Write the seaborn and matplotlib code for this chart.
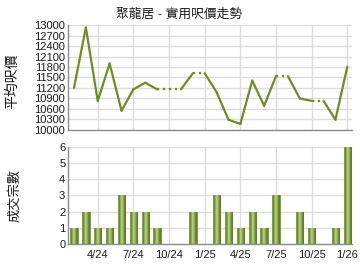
import matplotlib
matplotlib.use("Agg")
import matplotlib.pyplot as plt
import seaborn as sns
import numpy as np
import pandas as pd
from matplotlib.colors import LinearSegmentedColormap

sns.set_theme(style="white")
plt.rcParams['font.family'] = ['Liberation Sans', 'Noto Sans CJK TC', 'DejaVu Sans']

months = ["2/24", "3/24", "4/24", "5/24", "6/24", "7/24", "8/24", "9/24", "10/24", "11/24",
          "12/24", "1/25", "2/25", "3/25", "4/25", "5/25", "6/25", "7/25", "8/25", "9/25",
          "10/25", "11/25", "12/25", "1/26"]
# average price per sq ft (None = no transaction that month)
price = [11200, 12930, 10830, 11900, 10550, 11160, 11350, 11160, None, None,
         11620, None, 11080, 10290, 10170, 11410, 10690, 11540, None, 10900,
         10830, None, 10290, 11810]
deals = [1, 2, 1, 1, 3, 2, 2, 1, 0, 0, 2, 0, 3, 2, 1, 2, 1, 3, 0, 2, 1, 0, 1, 6]
tick_labels = ["4/24", "7/24", "10/24", "1/25", "4/25", "7/25", "10/25", "1/26"]
title = "聚龍居 - 實用呎價走勢"

line_color = "#6b8e23"
grid_color = "#dcdcdc"
spine_color = "#8c8c8c"
text_color = "#1a1a1a"

# build segments: carry forward for missing months (dotted), solid otherwise
filled = []
last = None
for v in price:
    if v is not None:
        last = v
    filled.append(last)
rows = []
for i in range(1, len(months)):
    kind = "dotted" if price[i] is None else "solid"
    rows.append(dict(seg=i, x=i - 1, y=filled[i - 1], kind=kind))
    rows.append(dict(seg=i, x=i, y=filled[i], kind=kind))
seg_df = pd.DataFrame(rows)

fig = plt.figure(figsize=(3.6, 2.7), dpi=100)
fig.patch.set_facecolor("white")
ax1 = fig.add_axes([0.189, 0.519, 0.789, 0.388])
ax2 = fig.add_axes([0.189, 0.096, 0.789, 0.360])

tick_pos = [months.index(t) for t in tick_labels]

# --- top: price line
for kind, ls in [("solid", "-"), ("dotted", ":")]:
    sub = seg_df[seg_df.kind == kind]
    sns.lineplot(data=sub, x="x", y="y", units="seg", estimator=None, ax=ax1,
                 color=line_color, lw=1.6, linestyle=ls, legend=False)

ax1.set_xlim(-0.5, 23.4)
ax1.set_ylim(10000, 13000)
ax1.set_yticks(np.arange(10000, 13001, 300))
ax1.set_xticks(tick_pos)
ax1.set_xticklabels([])
ax1.set_xlabel("")
ax1.set_ylabel("")
fig.text(0.497, 0.945, title, fontsize=9.2, ha="center", va="center", color=text_color)
fig.text(0.033, 0.70, "平均呎價", fontsize=10, rotation=90, ha="center", va="center",
         color=text_color)

# --- bottom: deals bars
bar_df = pd.DataFrame({"month": months, "deals": deals})
sns.barplot(data=bar_df, x="month", y="deals", ax=ax2, color="#7fa03a",
            width=0.62, saturation=1, order=months)
cmap = LinearSegmentedColormap.from_list(
    "barg", ["#8fae55", "#5f801f", "#b9d08a", "#a6c270", "#6d8f2b", "#5a7a1c"])
grad = np.linspace(0, 1, 64).reshape(1, -1)
for p in list(ax2.patches):
    x0, w, h = p.get_x(), p.get_width(), p.get_height()
    if h <= 0:
        continue
    im = ax2.imshow(grad, cmap=cmap, aspect="auto", extent=[x0, x0 + w, 0, h],
                    zorder=p.get_zorder() + 0.1, interpolation="bilinear")
    im.set_clip_path(p)
    p.set_edgecolor("#6a8a2a")
    p.set_linewidth(0.5)

ax2.set_xlim(-0.5, 23.4)
ax2.set_ylim(0, 6)
ax2.set_yticks(range(0, 7))
ax2.set_xticks(tick_pos)
ax2.set_xticklabels(tick_labels)
ax2.set_xlabel("")
ax2.set_ylabel("")
fig.text(0.042, 1 - 196 / 270, "成交宗數", fontsize=9.5, rotation=90, ha="center",
         va="center", color=text_color)

for ax in (ax1, ax2):
    ax.set_facecolor("white")
    ax.grid(True, color=grid_color, lw=1)
    ax.set_axisbelow(True)
    for s in ("top", "right"):
        ax.spines[s].set_visible(False)
    for s in ("left", "bottom"):
        ax.spines[s].set_color(spine_color)
        ax.spines[s].set_linewidth(1)
    ax.tick_params(axis="y", length=0, pad=2, labelsize=8, colors=text_color)
    ax.tick_params(axis="x", length=3, pad=1, labelsize=8, colors=text_color,
                   color=grid_color, width=1)

ax1.tick_params(axis="x", length=0)

fig.savefig("out.png", dpi=100, facecolor="white")
